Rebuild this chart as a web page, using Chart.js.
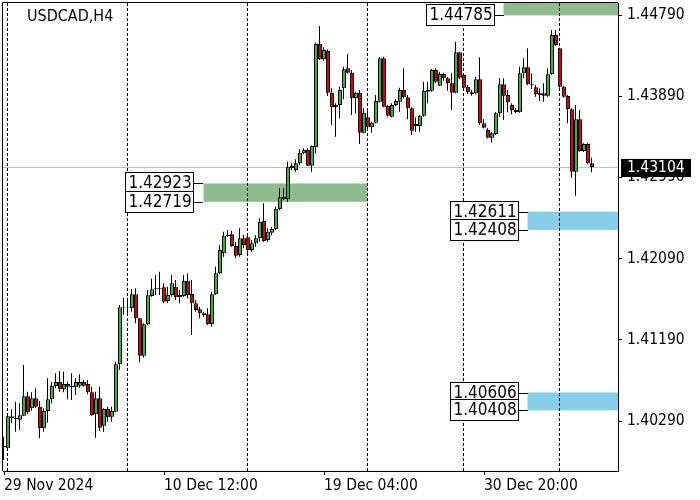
<!DOCTYPE html>
<html>
<head>
<meta charset="utf-8">
<script src="https://cdn.jsdelivr.net/npm/chart.js@4.4.1/dist/chart.umd.min.js"></script>
<style>
  html, body { margin: 0; padding: 0; background: #fff; }
  #wrap { width: 700px; height: 500px; }
</style>
</head>
<body>
<div id="wrap"><canvas id="myChart" width="700" height="500"></canvas></div>
<script>
// USDCAD H4 candles
var opens = [1.40002, 1.39987, 1.40342, 1.40309, 1.40304, 1.40349, 1.40564, 1.40431, 1.40542, 1.40448,
  1.40209, 1.40401, 1.40531, 1.40678, 1.40722, 1.40641, 1.40700, 1.40667, 1.40664, 1.40681,
  1.40722, 1.40700, 1.40608, 1.40364, 1.40542, 1.40238, 1.40423, 1.40338, 1.40393, 1.40918,
  1.41545, 1.41547, 1.41539, 1.41694, 1.41428, 1.41014, 1.41362, 1.41675, 1.41756, 1.41756,
  1.41772, 1.41620, 1.41687, 1.41779, 1.41687, 1.41675, 1.41845, 1.41698, 1.41595, 1.41528,
  1.41484, 1.41473, 1.41365, 1.41694, 1.41927, 1.42149, 1.42352, 1.42359, 1.42230, 1.42130,
  1.42315, 1.42326, 1.42185, 1.42260, 1.42315, 1.42507, 1.42296, 1.42377, 1.42418, 1.42640,
  1.42776, 1.42747, 1.43116, 1.43072, 1.43146, 1.43257, 1.43294, 1.43120, 1.43327, 1.44469,
  1.44299, 1.44391, 1.43929, 1.43767, 1.43793, 1.43978, 1.44199, 1.44151, 1.43867, 1.43929,
  1.43486, 1.43656, 1.43545, 1.43596, 1.43829, 1.44310, 1.43782, 1.43663, 1.43793, 1.43829,
  1.43959, 1.43878, 1.43756, 1.43582, 1.43560, 1.43674, 1.43940, 1.43951, 1.44180, 1.44006,
  1.44136, 1.44088, 1.44033, 1.43929, 1.44377, 1.44125, 1.43995, 1.43933, 1.43922, 1.44077,
  1.43590, 1.43515, 1.43430, 1.43471, 1.43700, 1.44022, 1.43903, 1.43793, 1.43737, 1.43711,
  1.44144, 1.44210, 1.44022, 1.43989, 1.43922, 1.43922, 1.43896, 1.44133, 1.44568, 1.44421,
  1.43995, 1.43892, 1.43745, 1.43053, 1.43634, 1.43283, 1.43360, 1.43146];
var highs = [1.40116, 1.40345, 1.40423, 1.40504, 1.40486, 1.40911, 1.40615, 1.40608, 1.40652, 1.40512,
  1.40431, 1.40763, 1.40726, 1.40819, 1.40844, 1.40836, 1.40726, 1.40819, 1.40763, 1.40808,
  1.40744, 1.40744, 1.40670, 1.40615, 1.40670, 1.40431, 1.40448, 1.40448, 1.40947, 1.41576,
  1.41657, 1.41657, 1.41753, 1.41761, 1.41432, 1.41373, 1.41742, 1.41867, 1.41908, 1.41945,
  1.41816, 1.41779, 1.41908, 1.41853, 1.41742, 1.41908, 1.41927, 1.41853, 1.41631, 1.41557,
  1.41501, 1.41539, 1.41723, 1.42000, 1.42241, 1.42388, 1.42407, 1.42399, 1.42277, 1.42426,
  1.42352, 1.42352, 1.42296, 1.42352, 1.42537, 1.42703, 1.42426, 1.42444, 1.42665, 1.42869,
  1.42869, 1.43164, 1.43146, 1.43191, 1.43302, 1.43313, 1.43313, 1.43345, 1.44483, 1.44668,
  1.44432, 1.44410, 1.43978, 1.43811, 1.43995, 1.44217, 1.44358, 1.44180, 1.43940, 1.43959,
  1.43756, 1.43737, 1.43607, 1.43903, 1.44321, 1.44328, 1.43793, 1.43811, 1.43856, 1.43984,
  1.44199, 1.43903, 1.43767, 1.43656, 1.43682, 1.44051, 1.44051, 1.44188, 1.44199, 1.44162,
  1.44151, 1.44106, 1.44144, 1.44494, 1.44383, 1.44125, 1.44014, 1.43959, 1.44106, 1.44321,
  1.43634, 1.43534, 1.43497, 1.43711, 1.44088, 1.44088, 1.43959, 1.43811, 1.43756, 1.44217,
  1.44310, 1.44421, 1.44144, 1.44014, 1.43978, 1.44033, 1.44199, 1.44624, 1.44624, 1.44428,
  1.44006, 1.43903, 1.43756, 1.43793, 1.43737, 1.43368, 1.43368, 1.43208];
var lows = [1.39858, 1.39980, 1.40268, 1.40171, 1.40190, 1.40345, 1.40368, 1.40404, 1.40431, 1.40098,
  1.40171, 1.40271, 1.40486, 1.40652, 1.40615, 1.40608, 1.40531, 1.40523, 1.40578, 1.40659,
  1.40670, 1.40586, 1.40349, 1.40105, 1.40179, 1.40171, 1.40282, 1.40282, 1.40390, 1.40855,
  1.41465, 1.41465, 1.41501, 1.41373, 1.40941, 1.40992, 1.41354, 1.41668, 1.41687, 1.41687,
  1.41595, 1.41595, 1.41668, 1.41631, 1.41595, 1.41668, 1.41650, 1.41243, 1.41501, 1.41428,
  1.41446, 1.41354, 1.41335, 1.41687, 1.41919, 1.42111, 1.42326, 1.42222, 1.42093, 1.42111,
  1.42204, 1.42149, 1.42167, 1.42222, 1.42277, 1.42277, 1.42277, 1.42352, 1.42407, 1.42629,
  1.42740, 1.42721, 1.43072, 1.43053, 1.43127, 1.43249, 1.43116, 1.43053, 1.43257, 1.44291,
  1.44284, 1.43892, 1.43571, 1.43441, 1.43645, 1.43856, 1.44142, 1.43682, 1.43700, 1.43360,
  1.43479, 1.43508, 1.43486, 1.43590, 1.43818, 1.43767, 1.43663, 1.43656, 1.43782, 1.43718,
  1.43867, 1.43634, 1.43460, 1.43497, 1.43497, 1.43663, 1.43811, 1.43940, 1.44033, 1.44003,
  1.44062, 1.43951, 1.43737, 1.43922, 1.44081, 1.43970, 1.43911, 1.43896, 1.43911, 1.43571,
  1.43534, 1.43423, 1.43379, 1.43460, 1.43663, 1.43626, 1.43711, 1.43689, 1.43700, 1.43707,
  1.44088, 1.44014, 1.43970, 1.43885, 1.43837, 1.43829, 1.43885, 1.44125, 1.44450, 1.43984,
  1.43874, 1.43590, 1.42987, 1.42787, 1.43275, 1.43275, 1.43135, 1.43047];
var closes = [1.40013, 1.40342, 1.40320, 1.40327, 1.40353, 1.40564, 1.40386, 1.40542, 1.40448, 1.40209,
  1.40401, 1.40531, 1.40678, 1.40722, 1.40641, 1.40700, 1.40670, 1.40678, 1.40722, 1.40722,
  1.40681, 1.40608, 1.40356, 1.40542, 1.40216, 1.40423, 1.40331, 1.40401, 1.40918, 1.41550,
  1.41550, 1.41553, 1.41694, 1.41428, 1.41014, 1.41362, 1.41683, 1.41750, 1.41767, 1.41764,
  1.41612, 1.41687, 1.41816, 1.41661, 1.41661, 1.41845, 1.41687, 1.41595, 1.41520, 1.41484,
  1.41462, 1.41365, 1.41694, 1.41927, 1.42185, 1.42344, 1.42341, 1.42230, 1.42122, 1.42315,
  1.42241, 1.42185, 1.42260, 1.42315, 1.42499, 1.42285, 1.42388, 1.42418, 1.42640, 1.42769,
  1.42747, 1.43109, 1.43091, 1.43146, 1.43264, 1.43294, 1.43120, 1.43338, 1.44469, 1.44299,
  1.44402, 1.43929, 1.43767, 1.43793, 1.43959, 1.44188, 1.44151, 1.43867, 1.43929, 1.43486,
  1.43707, 1.43545, 1.43596, 1.43837, 1.44310, 1.43774, 1.43674, 1.43793, 1.43837, 1.43959,
  1.43878, 1.43756, 1.43508, 1.43560, 1.43674, 1.43948, 1.43959, 1.44180, 1.44051, 1.44136,
  1.44088, 1.44033, 1.43929, 1.44377, 1.44095, 1.43984, 1.43933, 1.43911, 1.44077, 1.43590,
  1.43541, 1.43430, 1.43479, 1.43700, 1.44022, 1.43896, 1.43822, 1.43737, 1.43711, 1.44144,
  1.44210, 1.44022, 1.44014, 1.43911, 1.43903, 1.43896, 1.44133, 1.44568, 1.44458, 1.43995,
  1.43885, 1.43748, 1.43053, 1.43634, 1.43283, 1.43360, 1.43146, 1.43104];

var chartTitle = 'USDCAD,H4';
var lastPrice = 1.43104;

// axis ticks
var xTickIdx = [0, 40, 80, 120];
var xTickLabels = ['29 Nov 2024', '10 Dec 12:00', '19 Dec 04:00', '30 Dec 20:00'];
var yTickValues = [1.40290, 1.41190, 1.42090, 1.42990, 1.43890, 1.44790];

// week separators (candle index)
var sepIdx = [1, 31, 61, 91, 115, 139];

// supply / demand zones
var zoneHigh = [1.45000, 1.42923, 1.42611, 1.40606];
var zoneLow = [1.44785, 1.42719, 1.42408, 1.40408];
var zoneStart = [125, 50, 131, 131];
var zoneEnd = [null, 91, null, null];
var zoneShowHigh = [false, true, true, true];
var zoneColors = ['#8fbc8f', '#8fbc8f', '#87ceeb', '#87ceeb'];

var bullColor = '#36b536';
var bearColor = '#e00000';
var fontFamily = "'DejaVu Sans Condensed', 'Liberation Sans', sans-serif";

var overlay = {
  id: 'overlay',
  beforeDatasetsDraw: function(chart) {
    var c = chart.ctx, a = chart.chartArea, xs = chart.scales.xw, ys = chart.scales.y;
    c.save();
    c.beginPath();
    c.rect(a.left, a.top, a.right - a.left, a.bottom - a.top);
    c.clip();
    for (var z = 0; z < zoneLow.length; z++) {
      var x0 = xs.getPixelForValue(zoneStart[z]);
      var x1 = zoneEnd[z] === null ? a.right : xs.getPixelForValue(zoneEnd[z]);
      var y0 = ys.getPixelForValue(zoneHigh[z]);
      var y1 = ys.getPixelForValue(zoneLow[z]);
      c.fillStyle = zoneColors[z];
      c.fillRect(x0, y0, x1 - x0, y1 - y0);
    }
    c.strokeStyle = '#000';
    c.lineWidth = 1;
    c.setLineDash([3, 2]);
    sepIdx.forEach(function(s) {
      var sx = xs.getPixelForValue(s);
      c.beginPath();
      c.moveTo(sx, a.top);
      c.lineTo(sx, a.bottom);
      c.stroke();
    });
    c.setLineDash([]);
    var py = Math.floor(ys.getPixelForValue(lastPrice)) + 0.5;
    c.strokeStyle = '#c0c0c0';
    c.beginPath();
    c.moveTo(a.left, py);
    c.lineTo(a.right, py);
    c.stroke();
    c.restore();

    // zone price boxes
    c.save();
    c.font = '17px ' + fontFamily;
    c.textBaseline = 'middle';
    c.lineWidth = 1;
    for (var k = 0; k < zoneLow.length; k++) {
      var zx = Math.round(xs.getPixelForValue(zoneStart[k]));
      var bx = zx - 9.5 - 68;
      var prices = zoneShowHigh[k] ? [zoneHigh[k], zoneLow[k]] : [zoneLow[k]];
      prices.forEach(function(p) {
        var yc = Math.round(ys.getPixelForValue(p));
        c.fillStyle = '#fff';
        c.fillRect(bx, yc - 10.5, 68, 21);
        c.strokeStyle = '#000';
        c.strokeRect(bx, yc - 10.5, 68, 21);
        c.beginPath();
        c.moveTo(bx + 68, yc + 0.5);
        c.lineTo(zx, yc + 0.5);
        c.stroke();
        c.fillStyle = '#000';
        c.fillText(p.toFixed(5), bx + 3, yc + 1);
      });
    }
    c.restore();
  },
  afterDraw: function(chart) {
    var c = chart.ctx, a = chart.chartArea, ys = chart.scales.y;
    c.save();
    c.strokeStyle = '#000';
    c.lineWidth = 1;
    c.beginPath();
    c.moveTo(a.left - 0.5, a.bottom);
    c.lineTo(a.left - 0.5, a.top - 0.5);
    c.lineTo(a.right, a.top - 0.5);
    c.stroke();
    c.fillStyle = '#000';
    c.font = '16px ' + fontFamily;
    c.fillText(chartTitle, a.left + 24, a.top + 18);
    var py = Math.round(ys.getPixelForValue(lastPrice));
    c.fillRect(a.right + 3, py - 8, 70, 18);
    c.fillStyle = '#fff';
    c.font = '15.5px ' + fontFamily;
    c.textBaseline = 'middle';
    c.fillText(lastPrice.toFixed(5), a.right + 9, py + 1);
    c.restore();
  }
};

function renderChart() {
  var ctx = document.getElementById('myChart').getContext('2d');
  var wicks = [], bodies = [], bodyColors = [];
  for (var i = 0; i < opens.length; i++) {
    wicks.push({x: i, y: [lows[i], highs[i]]});
    bodies.push({x: i, y: [opens[i], closes[i]]});
    bodyColors.push(closes[i] >= opens[i] ? bullColor : bearColor);
  }
  var tickFont = {family: fontFamily, size: 15.5};
  var myChart = new Chart(ctx, {
    type: 'bar',
    data: {
      datasets: [
        {
          label: 'body',
          data: bodies,
          xAxisID: 'x',
          backgroundColor: bodyColors,
          borderColor: '#000',
          borderWidth: 1,
          borderSkipped: false,
          barThickness: 4,
          inflateAmount: 0,
          grouped: false,
          order: 0
        },
        {
          label: 'wick',
          data: wicks,
          xAxisID: 'xw',
          backgroundColor: '#000',
          borderWidth: 0,
          barThickness: 1,
          inflateAmount: 0,
          grouped: false,
          order: 1
        }
      ]
    },
    options: {
      responsive: false,
      animation: false,
      events: [],
      layout: { padding: { left: 3, top: 3, right: 0, bottom: 0 } },
      plugins: { legend: { display: false }, tooltip: { enabled: false } },
      scales: {
        x: {
          type: 'linear',
          min: -0.25,
          max: 153.5,
          offset: false,
          bounds: 'data',
          afterBuildTicks: function(s) { s.ticks = xTickIdx.map(function(v) { return {value: v}; }); },
          afterFit: function(s) { s.height = 29; s.paddingLeft = 0; s.paddingRight = 0; },
          ticks: {
            autoSkip: false,
            maxRotation: 0,
            align: 'start',
            padding: 2,
            color: '#000',
            font: tickFont,
            callback: function(v) { return xTickLabels[xTickIdx.indexOf(v)]; }
          },
          grid: { drawOnChartArea: false, offset: false, tickLength: 4, color: '#000' },
          border: { display: true, color: '#000' }
        },
        // same time axis, half a pixel over, so 1px wicks stay sharp
        xw: {
          type: 'linear',
          display: false,
          min: -0.125,
          max: 153.625,
          offset: false,
          bounds: 'data',
          afterFit: function(s) { s.height = 0; }
        },
        y: {
          position: 'right',
          min: 1.39736,
          max: 1.44923,
          beginAtZero: false,
          afterBuildTicks: function(s) { s.ticks = yTickValues.map(function(v) { return {value: v}; }); },
          afterFit: function(s) { s.width = 82; s.paddingTop = 0; s.paddingBottom = 0; },
          ticks: {
            padding: 5,
            color: '#000',
            font: tickFont,
            callback: function(v) { return v.toFixed(5); }
          },
          grid: { drawOnChartArea: false, tickLength: 4, color: '#000' },
          border: { display: true, color: '#000' }
        }
      }
    },
    plugins: [overlay]
  });
}
document.addEventListener('DOMContentLoaded', renderChart);
</script>
</body>
</html>
